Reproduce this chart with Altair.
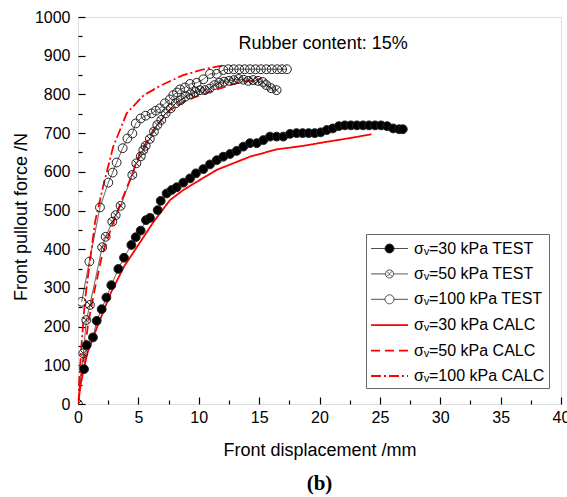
import altair as alt
import pandas as pd

SERIES = ["σᵥ=30 kPa TEST", "σᵥ=50 kPa TEST", "σᵥ=100 kPa TEST",
          "σᵥ=30 kPa CALC", "σᵥ=50 kPa CALC", "σᵥ=100 kPa CALC"]

x_30_test = [0.5, 0.72, 1.24, 1.55, 1.96, 2.35, 2.76, 3.34, 3.81, 4.42, 4.78, 5.19, 5.63, 5.96, 6.6,
             6.85, 7.34, 7.76, 8.17, 8.72, 9.28, 9.77, 10.38, 10.93, 11.49, 12.03, 12.59, 13.14, 13.69,
             14.24, 14.8, 15.35, 15.9, 16.45, 17.0, 17.56, 18.1, 18.6, 19.1, 19.6, 20.1, 20.6, 21.1,
             21.6, 22.1, 22.6, 23.1, 23.6, 24.1, 24.6, 25.1, 25.6, 26.1, 26.6, 26.9]
y_30_test = [90, 152, 172, 215, 245, 275, 307, 349, 378, 411, 431, 448, 475, 481, 501,
             525, 544, 553, 560, 572, 583, 596, 607, 619, 630, 639, 646, 654, 665,
             674, 674, 682, 691, 691, 691, 698, 700, 700, 700, 700, 702, 708, 712,
             718, 720, 720, 720, 720, 720, 720, 720, 718, 712, 710, 710]

x_50_test = [0, 0.44, 0.69, 0.99, 2.0, 2.29, 2.84, 3.12, 3.53, 4.5, 4.83, 5.2, 5.41, 5.6, 5.95,
             6.29, 6.57, 6.9, 7.26, 7.68, 8.09, 8.5, 8.9, 9.3, 9.7, 10.1, 10.5, 10.9, 11.3, 11.7,
             12.1, 12.5, 12.9, 13.3, 13.7, 14.1, 14.5, 14.9, 15.3, 15.6, 16.0, 16.45]
y_50_test = [0, 131, 217, 256, 405, 432, 471, 488, 512, 592, 622, 640, 656, 667, 685,
             704, 721, 734, 751, 764, 777, 785, 794, 800, 806, 811, 811, 815, 824, 830,
             833, 835, 837, 840, 838, 835, 837, 835, 832, 824, 816, 811]

x_100_test = [0.3, 0.94, 1.82, 2.51, 2.87, 3.2, 3.7, 4.09, 4.5, 4.78, 5.19, 5.6, 6.1, 6.45, 6.79,
              7.2, 7.62, 7.89, 8.2, 8.45, 8.86, 9.28, 9.83, 10.38, 10.93, 11.49, 12.03, 12.45,
              12.9, 13.35, 13.8, 14.25, 14.7, 15.15, 15.6, 16.05, 16.5, 16.9, 17.3]
y_100_test = [264, 368, 508, 572, 598, 624, 661, 686, 699, 725, 738, 745, 751, 758, 764,
              777, 787, 798, 805, 813, 818, 827, 830, 839, 853, 853, 863, 865,
              865, 865, 865, 865, 865, 865, 865, 865, 865, 865, 865]

x_30_calc = [0, 0.25, 0.77, 1.6, 2.7, 3.81, 5.19, 6.24, 7.62, 8.72, 10.1, 11.49, 12.86, 14.24,
             16.45, 18.66, 20.5, 22.5, 24.3]
y_30_calc = [0, 55, 131, 200, 286, 355, 420, 470, 527, 553, 579, 605, 622, 639,
             658, 667, 677, 687, 697]

x_50_calc = [0, 0.2, 0.44, 0.85, 1.41, 2.0, 2.65, 3.48, 4.3, 5.13, 6.24, 7.62, 9.0, 10.93, 13.14, 15.1]
y_50_calc = [0, 60, 110, 210, 300, 385, 445, 515, 579, 648, 708, 760, 785, 807, 829, 840]

x_100_calc = [0, 0.1, 0.3, 0.58, 1.0, 1.41, 2.1, 2.92, 4.03, 5.41, 6.79, 8.72, 10.66, 12.2]
y_100_calc = [0, 60, 157, 269, 372, 470, 565, 665, 751, 797, 822, 850, 867, 876]

X_TICKS = [0, 5, 10, 15, 20, 25, 30, 35, 40]
X_MINOR = [2.5, 7.5, 12.5, 17.5, 22.5, 27.5, 32.5, 37.5]
Y_TICKS = [0, 100, 200, 300, 400, 500, 600, 700, 800, 900, 1000]
Y_MINOR = [50, 150, 250, 350, 450, 550, 650, 750, 850, 950]

ANNOT_TEXT = ["Rubber content: 15%"]
ANNOT_X = [20.3]
ANNOT_Y = [930]

rows = []
for name, xs_, ys_ in zip(SERIES,
                          [x_30_test, x_50_test, x_100_test, x_30_calc, x_50_calc, x_100_calc],
                          [y_30_test, y_50_test, y_100_test, y_30_calc, y_50_calc, y_100_calc]):
    for i, (a, b) in enumerate(zip(xs_, ys_)):
        rows.append({"series": name, "kind": "TEST" if "TEST" in name else "CALC",
                     "x": a, "y": b, "i": i})
df = pd.DataFrame(rows)
ann = pd.DataFrame({"t": ANNOT_TEXT, "x": ANNOT_X, "y": ANNOT_Y})

F = "Liberation Sans, Arial, DejaVu Sans"

xs = alt.Scale(domain=[0, 40], nice=False, zero=False)
ys = alt.Scale(domain=[0, 1000], nice=False, zero=False)

CROSS = "M-1,0A1,1,0,1,0,1,0A1,1,0,1,0,-1,0ZM-0.707,-0.707L0.707,0.707M-0.707,0.707L0.707,-0.707"
P_DOT = "M-1,0L0.4,0M1.3,0L2.7,0M0.4,0A0.45,0.45,0,1,0,1.3,0A0.45,0.45,0,1,0,0.4,0Z"
P_CROSS = ("M-1,0L0.45,0M1.25,0L2.7,0M0.45,0A0.4,0.4,0,1,0,1.25,0A0.4,0.4,0,1,0,0.45,0Z"
           "M0.567,-0.283L1.133,0.283M0.567,0.283L1.133,-0.283")
P_LINE = "M-1,0L2.7,0"

stroke_scale = alt.Scale(domain=SERIES, range=["#222222", "#222222", "#222222", "#ff0000", "#ff0000", "#ff0000"])
fill_scale = alt.Scale(domain=SERIES, range=["#000000", "transparent", "transparent", "transparent", "transparent", "transparent"])
dash_scale = alt.Scale(type="ordinal", domain=SERIES, range=[[1, 0], [1, 0], [1, 0], [1, 0], [9, 5], [10, 3, 2, 3]])
width_scale = alt.Scale(type="ordinal", domain=SERIES, range=[0.8, 0.8, 0.8, 1.8, 1.8, 1.8])
shape_scale = alt.Scale(domain=SERIES, range=[P_DOT, P_CROSS, P_DOT, P_LINE, P_LINE, P_LINE])

leg = alt.Legend(title=None, orient="none", legendX=288, legendY=217, symbolSize=400,
                 labelOffset=22, labelFontSize=16, labelFont=F, labelColor="black",
                 rowPadding=6.4, padding=4, strokeColor="#666666", fillColor="white",
                 labelLimit=300, symbolOpacity=1)

axis_x_labels = alt.Axis(orient="bottom", values=X_TICKS, ticks=False, domain=False, grid=False,
                         labelFontSize=16, labelFont=F, labelColor="black", labelPadding=5,
                         labelFlush=False, labelOverlap=False, format="d",
                         title="Front displacement /mm", titleFontSize=18, titleFont=F,
                         titleFontWeight="normal", titleColor="black", titleY=46,
                         titleBaseline="middle")
axis_y_labels = alt.Axis(orient="left", values=Y_TICKS, ticks=False, domain=False, grid=False,
                         labelFontSize=16, labelFont=F, labelColor="black", labelPadding=8,
                         labelFlush=False, labelOverlap=False, format="d",
                         title="Front pullout force /N", titleFontSize=18, titleFont=F,
                         titleFontWeight="normal", titleColor="black", titleX=-57, titleY=199.5,
                         titleAngle=270, titleBaseline="middle", titleAlign="center")
axis_x_major = alt.Axis(orient="bottom", values=X_TICKS, labels=False, domain=False, grid=False,
                        title=None, tickSize=7, tickWidth=1.2, tickColor="black", offset=-7)
axis_y_major = alt.Axis(orient="left", values=Y_TICKS, labels=False, domain=False, grid=False,
                        title=None, tickSize=7, tickWidth=1.2, tickColor="black", offset=-7)
axis_x_minor = alt.Axis(orient="bottom", values=X_MINOR, labels=False, domain=False, grid=False,
                        title=None, tickSize=4, tickWidth=1.2, tickColor="black", offset=-4)
axis_y_minor = alt.Axis(orient="left", values=Y_MINOR, labels=False, domain=False, grid=False,
                        title=None, tickSize=4, tickWidth=1.2, tickColor="black", offset=-4)

lines = alt.Chart(df).mark_line(clip=True).encode(
    x=alt.X("x:Q", scale=xs, axis=axis_x_labels),
    y=alt.Y("y:Q", scale=ys, axis=axis_y_labels),
    stroke=alt.Stroke("series:N", scale=stroke_scale, legend=leg),
    strokeDash=alt.StrokeDash("series:N", scale=dash_scale, legend=leg),
    strokeWidth=alt.StrokeWidth("series:N", scale=width_scale, legend=leg),
    order="i:Q",
)

points = alt.Chart(df).transform_filter(alt.datum.kind == "TEST").mark_point(
    size=78, strokeWidth=1, opacity=1, clip=True
).encode(
    x=alt.X("x:Q", scale=xs, axis=axis_x_major),
    y=alt.Y("y:Q", scale=ys, axis=axis_y_major),
    shape=alt.condition(alt.datum.series == SERIES[1], alt.value(CROSS), alt.value("circle")),
    stroke=alt.Stroke("series:N", scale=stroke_scale, legend=leg),
    fill=alt.Fill("series:N", scale=fill_scale, legend=leg),
)

legend_layer = alt.Chart(df).transform_filter("false").mark_point(opacity=1).encode(
    x=alt.X("x:Q", scale=xs, axis=axis_x_minor),
    y=alt.Y("y:Q", scale=ys, axis=axis_y_minor),
    shape=alt.Shape("series:N", scale=shape_scale, legend=leg),
    stroke=alt.Stroke("series:N", scale=stroke_scale, legend=leg),
    fill=alt.Fill("series:N", scale=fill_scale, legend=leg),
    strokeDash=alt.StrokeDash("series:N", scale=dash_scale, legend=leg),
    strokeWidth=alt.StrokeWidth("series:N", scale=width_scale, legend=leg),
)

text = alt.Chart(ann).mark_text(fontSize=18, font=F, color="black", align="center",
                                baseline="middle").encode(
    x=alt.X("x:Q", scale=xs, axis=None),
    y=alt.Y("y:Q", scale=ys, axis=None),
    text="t:N",
)

chart = alt.layer(lines, points, legend_layer, text).resolve_axis(
    x="independent", y="independent"
).properties(
    width=483, height=387,
    autosize=alt.AutoSizeParams(type="none"),
    padding={"left": 78, "top": 17, "right": 6, "bottom": 93},
    title=alt.TitleParams("(b)", orient="bottom", font="Liberation Serif", fontSize=21,
                          fontWeight="bold", color="black", anchor="middle", offset=14),
).configure_view(stroke="#111111", strokeWidth=1.5).configure(background="white")

chart.save("out.html", embed_options={"renderer": "svg", "actions": False})
